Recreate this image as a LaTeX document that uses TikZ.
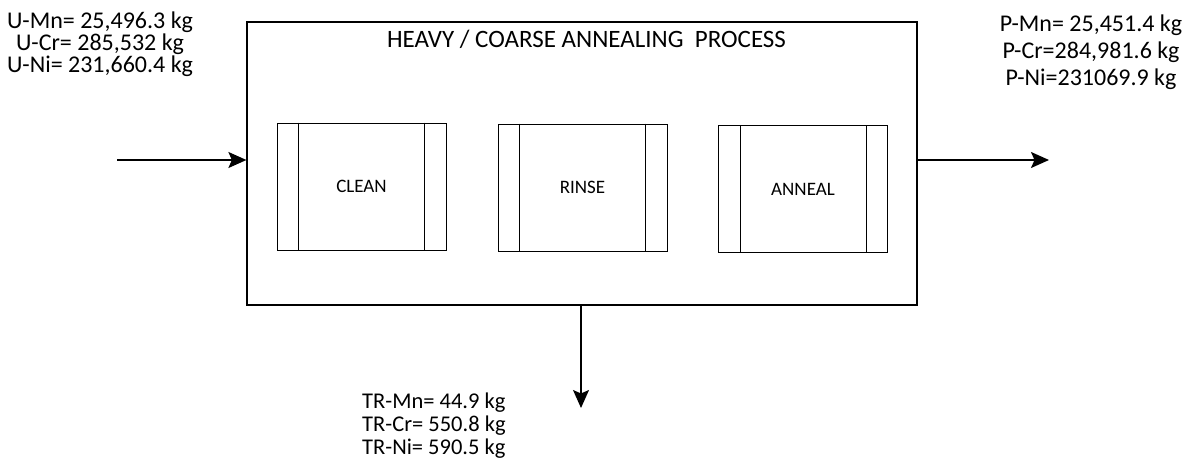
\documentclass[tikz,border=0pt]{standalone}
\usepackage{fontspec}
\setmainfont{Carlito}
\usetikzlibrary{arrows.meta}
\begin{document}
\begin{tikzpicture}[x=1pt,y=-1pt,
  outer/.style={draw, line width=1.2pt, inner sep=0pt},
  unit/.style={draw, line width=0.9pt, minimum width=169pt, minimum height=127pt, inner sep=0pt, font=\fontsize{19}{22}\selectfont},
  flow/.style={line width=1.6pt, -{Stealth[length=18pt,width=16pt,inset=3.5pt]}},
  lbl/.style={font=\fontsize{24}{22}\selectfont, align=center, inner sep=0pt}]
\useasboundingbox (0,0) rectangle (1183,468);
\node[outer, minimum width=670pt, minimum height=283pt] (proc) at (582,163.5) {};
\node[font=\fontsize{25}{28}\selectfont, anchor=base, inner sep=0pt] (title) at (586.5,48) {HEAVY / COARSE ANNEALING\ \ PROCESS};
\node[unit] (clean) at (361.5,186.5) {CLEAN};
\node[unit] (rinse) at (582.5,187.5) {RINSE};
\node[unit] (anneal) at (803,189) {ANNEAL};
\foreach \u in {clean,rinse,anneal}{
  \draw[line width=0.9pt] ([xshift=22pt]\u.north west) -- ([xshift=22pt]\u.south west);
  \draw[line width=0.9pt] ([xshift=-22pt]\u.north east) -- ([xshift=-22pt]\u.south east);
}
\coordinate (in) at (117,160);
\coordinate (out) at (1049,160);
\coordinate (down) at (581,408);
\draw[flow] (in) -- (in -| proc.west);
\draw[flow] (out -| proc.east) -- (out);
\draw[flow] (down |- proc.south) -- (down);
\node[lbl] (uin) at (100,44) {U-Mn= 25,496.3 kg\\U-Cr= 285,532 kg\\U-Ni= 231,660.4 kg};
\node[lbl, font=\fontsize{24}{27}\selectfont] (pout) at (1091,52) {P-Mn= 25,451.4 kg\\P-Cr=284,981.6 kg\\P-Ni=231069.9 kg};
\node[lbl, font=\fontsize{22.5}{23}\selectfont, align=left, anchor=west] (trout) at (362,426) {TR-Mn= 44.9 kg\\TR-Cr= 550.8 kg\\TR-Ni= 590.5 kg};
\end{tikzpicture}
\end{document}
